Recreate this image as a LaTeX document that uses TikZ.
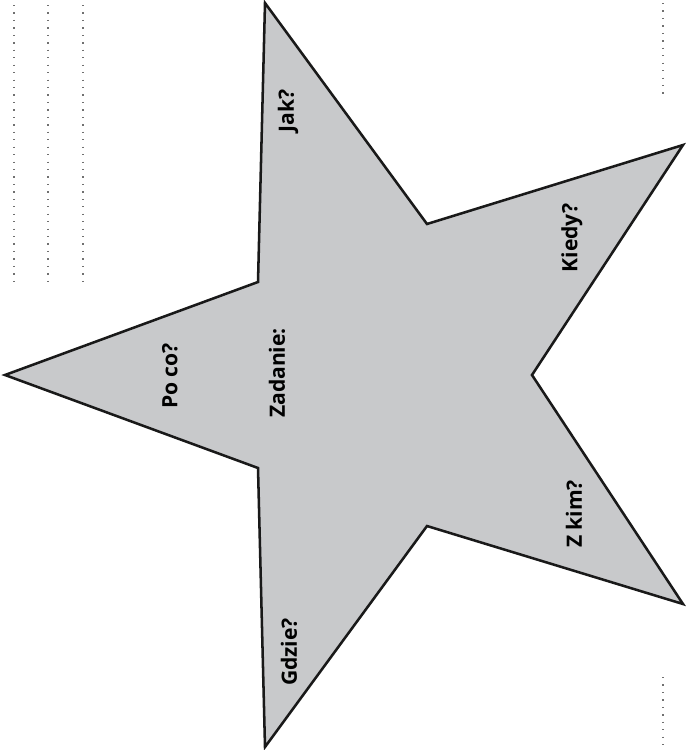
\documentclass[tikz,border=0pt]{standalone}
\usepackage{fontspec}
\newfontfamily\starfont{Open Sans}
\usepackage{xcolor}
\usepackage{tikz}
\definecolor{stargray}{HTML}{C8C9CB}
\definecolor{dotgray}{HTML}{707070}
\tikzset{
  starbody/.style  = {draw=black!90, fill=stargray, line width=1.8pt, line join=miter},
  question/.style  = {rotate=90, font=\starfont\bfseries\fontsize{15}{17}\selectfont, inner sep=0pt},
  writeline/.style = {draw=dotgray, line width=0.9pt, dash pattern=on 0.9pt off 4.4pt},
}

\begin{document}
\begin{tikzpicture}[x=0.025cm, y=-0.025cm]
  \useasboundingbox (0,0) rectangle (685,750);
  % lines for writing
  \foreach \lx in {14,48,83} {
    \draw[writeline] (\lx,5) -- (\lx,283);
  }
  \draw[writeline] (663,3) -- (663,96);
  \draw[writeline] (663,677) -- (663,750);
  % star corners
  \coordinate (top)    at (265,3);
  \coordinate (inTR)   at (427,224);
  \coordinate (outTR)  at (683,145);
  \coordinate (inR)    at (532,375);
  \coordinate (outBR)  at (683,604);
  \coordinate (inBR)   at (427,526);
  \coordinate (bottom) at (265,747);
  \coordinate (inBL)   at (258,468);
  \coordinate (left)   at (5,375);
  \coordinate (inTL)   at (258,282);
  \draw[starbody] (top) -- (inTR) -- (outTR) -- (inR) -- (outBR) -- (inBR)
    -- (bottom) -- (inBL) -- (left) -- (inTL) -- cycle;
  % questions
  \node[question] (task)  at (277,373) {Zadanie:};
  \node[question] (why)   at (170,376) {Po co?};
  \node[question] (how)   at (288,111) {Jak?};
  \node[question] (when)  at (572,238) {Kiedy?};
  \node[question] (with)  at (574,514) {Z kim?};
  \node[question] (where) at (289,652) {Gdzie?};
\end{tikzpicture}
\end{document}
